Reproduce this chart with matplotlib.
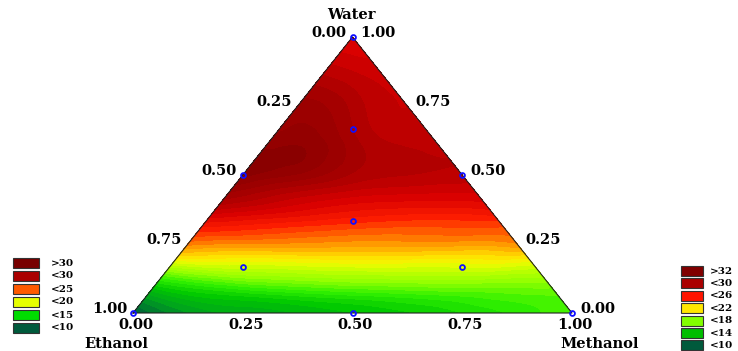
import numpy as np
import matplotlib
matplotlib.use("Agg")
import matplotlib.pyplot as plt
import matplotlib.tri as mtri
from matplotlib.colors import LinearSegmentedColormap
from matplotlib.patches import Rectangle

# design points (water, ethanol, methanol) shown as blue markers
water = [1.0, 0.0, 0.0, 0.5, 0.5, 0.0, 1 / 3, 2 / 3, 1 / 6, 1 / 6]
ethanol = [0.0, 1.0, 0.0, 0.5, 0.0, 0.5, 1 / 3, 1 / 6, 2 / 3, 1 / 6]
methanol = [0.0, 0.0, 1.0, 0.0, 0.5, 0.5, 1 / 3, 1 / 6, 1 / 6, 2 / 3]

# response, row by row (water level),
# position along the row: 0 = ethanol side, 1 = methanol side
row_water = [0.0, 0.0625, 0.125, 0.1875, 0.25, 0.3125, 0.375, 0.4375,
             0.5, 0.625, 0.75]
row_pos = [0.0, 0.25, 0.5, 0.75, 1.0]
row_values = [
    [10.0, 12.8, 13.8, 15.0, 16.8],
    [12.3, 14.5, 15.5, 16.2, 16.8],
    [16.0, 18.0, 18.6, 18.8, 18.5],
    [20.8, 21.0, 21.3, 21.2, 21.0],
    [24.2, 23.9, 23.7, 23.7, 23.9],
    [26.4, 25.9, 25.4, 25.2, 25.2],
    [28.8, 27.9, 27.1, 26.8, 27.0],
    [30.6, 29.4, 28.6, 28.3, 28.2],
    [32.0, 31.1, 29.9, 29.4, 29.2],
    [31.4, 31.5, 30.2, 29.3, 29.0],
    [30.8, 30.6, 29.8, 29.0, 28.8],
]
top_water = [0.875, 0.875, 0.875, 1.0]
top_pos = [0.0, 0.5, 1.0, 0.5]
top_values = [29.2, 28.8, 28.5, 27.5]

tick_values = [0.00, 0.25, 0.50, 0.75, 1.00]
left_legend = [">30", "<30", "<25", "<20", "<15", "<10"]
left_colors = ["#780000", "#aa0000", "#ff5a00", "#e6ff00", "#00dc00", "#005a3c"]
right_legend = [">32", "<30", "<26", "<22", "<18", "<14", "<10"]
right_colors = ["#800000", "#aa0000", "#ff1400", "#ffe600", "#82ff00", "#00be00", "#005a3c"]

W, H = 738, 351
# triangle corners in pixels
X0, X1, YB, YT = 133, 572, 313, 37
VMIN, VMAX = 9.0, 33.0

FONT = "DejaVu Serif"


def to_xy(w, t):
    # row at water level w runs from x = w/2 to x = 1 - w/2
    w = np.asarray(w, dtype=float)
    t = np.asarray(t, dtype=float)
    return w / 2 + t * (1 - w), w


sw, st, sz = [], [], []
for w, vals in zip(row_water, row_values):
    for t, v in zip(row_pos, vals):
        sw.append(w)
        st.append(t)
        sz.append(v)
sw += top_water
st += top_pos
sz += top_values

sx_pts, sy_pts = to_xy(sw, st)
tri = mtri.Triangulation(sx_pts, sy_pts)
refiner = mtri.UniformTriRefiner(tri)
tri_f, z_f = refiner.refine_field(np.array(sz), subdiv=4)


def pos(v):
    return (v - VMIN) / (VMAX - VMIN)


cmap = LinearSegmentedColormap.from_list("resp", [
    (pos(9), "#004a32"),
    (pos(10), "#005a3c"),
    (pos(12), "#00a020"),
    (pos(14), "#00c800"),
    (pos(16), "#30f000"),
    (pos(18), "#8cff00"),
    (pos(20), "#c8ff00"),
    (pos(21), "#f0fa00"),
    (pos(22), "#ffe100"),
    (pos(24), "#ff8c00"),
    (pos(26), "#ff1e00"),
    (pos(28), "#d80000"),
    (pos(30), "#aa0000"),
    (pos(33), "#7e0000"),
])

fig = plt.figure(figsize=(W / 100, H / 100), dpi=100)

bg = fig.add_axes([0, 0, 1, 1])
bg.set_xlim(0, W)
bg.set_ylim(H, 0)
bg.axis("off")

ax = fig.add_axes([X0 / W, (H - YB) / H, (X1 - X0) / W, (YB - YT) / H])
ax.set_xlim(0, 1)
ax.set_ylim(0, 1)
ax.axis("off")

ax.tricontourf(tri_f, z_f, levels=np.arange(VMIN, VMAX + 0.6, 0.6), cmap=cmap,
               vmin=VMIN, vmax=VMAX, extend="both")
ax.plot([0, 1, 0.5, 0], [0, 0, 1, 0], color="#222222", lw=0.8, clip_on=False)

px = np.array(methanol) + np.array(water) / 2
ax.plot(px, water, "o", ms=3.5, mfc="none", mec="#1010ff", mew=1.3, clip_on=False)

sx = 1 / (X1 - X0)
sy = 1 / (YB - YT)
tk = dict(fontsize=10.5, fontweight="bold", family=FONT, clip_on=False)

for v in tick_values:
    # left edge: ethanol fraction, labels placed to the left
    wv = 1 - v
    ax.text(wv / 2 - 6 * sx, wv + 4 * sy, f"{v:.2f}", ha="right", va="center", **tk)
    # right edge: water fraction
    ax.text(1 - v / 2 + 8 * sx, v + 4 * sy, f"{v:.2f}", ha="left", va="center", **tk)
    # bottom edge: methanol fraction
    if v > 0:
        ax.text(v + 3 * sx, -12 * sy, f"{v:.2f}", ha="center", va="center", **tk)
ax.text(3 * sx, -12 * sy, "0.00", ha="center", va="center", **tk)

lab = dict(fontsize=10.5, fontweight="bold", family=FONT)
bg.text(351, 15, "Water", ha="center", va="center", **lab)
bg.text(116, 344, "Ethanol", ha="center", va="center", **lab)
bg.text(600, 344, "Methanol", ha="center", va="center", **lab)

lg = dict(fontsize=7.5, fontweight="bold", family=FONT, ha="left", va="center")
for i, (t, c) in enumerate(zip(left_legend, left_colors)):
    y = 258 + i * 13
    bg.add_patch(Rectangle((13, y), 26, 10, facecolor=c, edgecolor="#333333", lw=0.8))
    bg.text(51, y + 5, t, **lg)

for i, (t, c) in enumerate(zip(right_legend, right_colors)):
    y = 266 + i * 12.4
    bg.add_patch(Rectangle((681, y), 22, 10, facecolor=c, edgecolor="#333333", lw=0.8))
    bg.text(710, y + 5, t, **lg)

fig.savefig("out.png", dpi=100)
